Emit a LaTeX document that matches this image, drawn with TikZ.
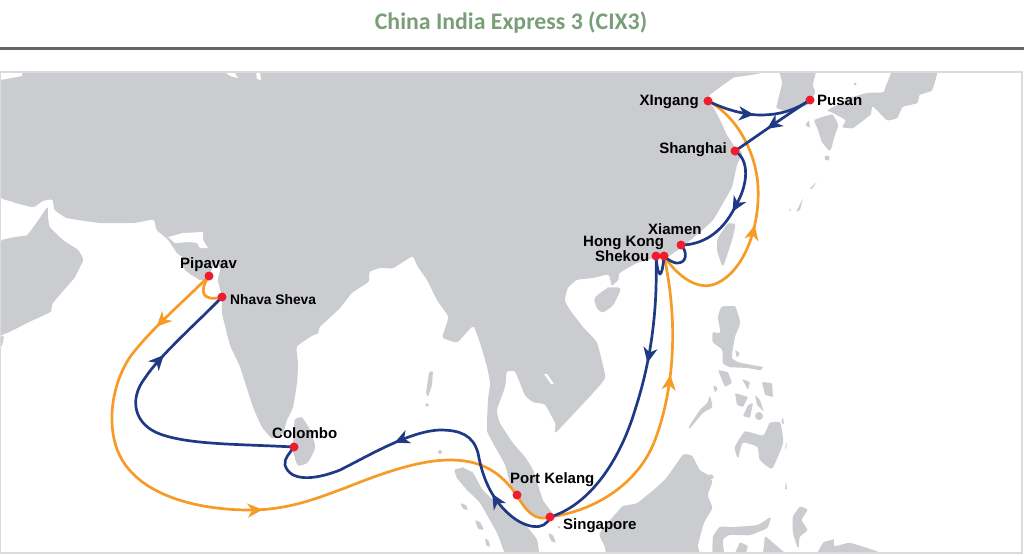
\documentclass[tikz,border=0pt]{standalone}
\usepackage{fontspec}
\setmainfont{Liberation Sans}
\newfontfamily\titlefont{Carlito}
\usetikzlibrary{arrows.meta,decorations.markings}

\definecolor{landgray}{HTML}{CBCCCF}
\definecolor{framegray}{HTML}{DADBDC}
\definecolor{rulegray}{HTML}{666666}
\definecolor{titlegreen}{HTML}{7A9E78}
\definecolor{routeblue}{HTML}{1F3A85}
\definecolor{routeorange}{HTML}{F79B26}
\definecolor{portred}{HTML}{EE1C2E}

\tikzset{
	land/.style={fill=landgray, rounded corners=1pt},
	gap/.style={fill=white},
	route/.style={line width=2.7pt, line cap=round, line join=round},
	blueroute/.style={route, draw=routeblue},
	orangeroute/.style={route, draw=routeorange},
	arrowat/.style={postaction={decorate, decoration={markings, mark=at position #1 with {\arrow{Stealth[length=15pt, width=14pt, inset=4.5pt]}}}}},
	port/.style={circle, fill=portred, inner sep=0pt, minimum size=9pt},
	portlabel/.style={font=\fontsize{15}{17}\selectfont\bfseries, inner sep=0pt, text=black}
}

\begin{document}
\begin{tikzpicture}[x=1pt, y=-1pt]
	\useasboundingbox (0,0) rectangle (1024,555);

	%Title
	\node[font=\titlefont\fontsize{23.8}{26}\selectfont\bfseries, text=titlegreen] (title) at (511,23) {China India Express 3 (CIX3)};
	\draw[line width=2.5pt, rulegray] (0,48.5) -- (1024,48.5);

	%Land
	\begin{scope}
	\clip (0,72) rectangle (1022,553);
	%Eurasia
	\fill[land] plot[smooth cycle, tension=.25] coordinates {(-5,68) (-5,190) (13,202) (33,207) (43,201) (52,200) (55,210) (67,218) (100,223) (133,223) (153,220) (157,230) (168,240) (177,253) (183,258) (185,270) (200,280) (208,277) (213,267) (217,262) (220,270) (218,280) (222,297) (222,313) (230,345) (240,367) (253,407) (262,427) (272,438) (283,433) (287,420) (293,407) (297,383) (298,365) (297,347) (310,337) (318,333) (320,327) (340,308) (352,293) (368,282) (370,272) (380,268) (393,268) (412,257) (418,267) (427,280) (437,300) (448,317) (443,337) (457,342) (473,327) (480,343) (487,367) (490,383) (488,400) (487,430) (493,443) (505,465) (513,493) (530,513) (547,518) (552,513) (543,500) (533,470) (525,457) (513,443) (500,423) (497,410) (505,387) (507,372) (515,372) (525,395) (533,402) (545,405) (555,423) (556,432) (580,407) (593,393) (605,377) (597,343) (583,327) (570,310) (565,300) (568,288) (577,280) (593,278) (608,275) (612,285) (618,280) (620,273) (637,263) (655,258) (667,257) (682,247) (700,232) (713,220) (723,203) (732,187) (737,165) (742,153) (735,147) (727,135) (720,120) (713,107) (708,102) (710,95) (723,85) (733,78) (742,70)};
	%Korea
	\fill[land] plot[smooth cycle, tension=.25] coordinates {(780,68) (782,83) (778,100) (777,108) (790,112) (800,108) (810,103) (815,92) (813,85) (815,68)};
	%Arabia
	\fill[land] plot[smooth cycle, tension=.25] coordinates {(-5,247) (3,240) (15,237) (27,235) (37,222) (47,208) (48,217) (50,227) (63,240) (78,250) (83,260) (75,277) (70,283) (53,303) (50,312) (27,323) (7,333) (-5,333)};
	\fill[land] (-2,337) -- (4,336) -- (2,346) -- (-2,348) -- cycle;
	%Sri Lanka
	\fill[land] plot[smooth cycle, tension=.4] coordinates {(295,420) (302,418) (310,430) (315,447) (308,462) (298,465) (293,450) (294,432)};
	%Andaman, Nicobar
	\fill[land] (429,372) -- (433,371) -- (432,385) -- (428,397) -- (426,393) -- cycle;
	\fill[land] (427,405) circle [radius=1.8];
	\fill[land] (440,452) circle [radius=2];
	%Sumatra
	\fill[land] plot[smooth cycle, tension=.25] coordinates {(455,470) (463,468) (473,473) (483,490) (507,513) (527,527) (537,540) (538,558) (508,558) (497,533) (480,503) (467,490) (457,478)};
	\fill[land] (460,503) -- (466,505) -- (468,510) -- (463,509) -- cycle;
	\fill[land] (475,520) -- (480,522) -- (484,530) -- (478,529) -- cycle;
	\fill[land] (485,538) -- (489,541) -- (490,547) -- (486,545) -- cycle;
	\fill[land] (548,533) -- (553,535) -- (556,543) -- (551,541) -- cycle;
	\fill[land] (559,527) circle [radius=1.5];
	%Borneo
	\fill[land] plot[smooth cycle, tension=.25] coordinates {(600,533) (622,507) (637,503) (657,487) (667,477) (683,455) (692,456) (700,470) (708,475) (712,482) (708,495) (712,508) (704,523) (698,545) (697,558) (612,558) (604,545)};
	%Sulawesi
	\fill[land] plot[smooth cycle, tension=.25] coordinates {(713,558) (713,537) (720,527) (733,527) (757,525) (770,518) (767,528) (750,535) (730,535) (723,540) (724,558)};
	\fill[land] (735,553) -- (740,542) -- (748,546) -- (746,553) -- cycle;
	\fill[land] (765,536) -- (770,540) -- (785,553) -- (763,553) -- cycle;
	%Halmahera
	\fill[land] plot[smooth cycle, tension=.3] coordinates {(800,507) (807,510) (802,520) (807,530) (800,537) (798,547) (793,533) (793,517)};
	%New Guinea
	\fill[land] plot[smooth cycle, tension=.3] coordinates {(823,543) (833,540) (835,546) (850,543) (873,550) (885,556) (820,556)};
	%Philippines
	\fill[land] plot[smooth cycle, tension=.3] coordinates {(722,307) (735,307) (740,323) (735,337) (732,357) (738,362) (752,365) (762,367) (760,370) (747,368) (730,367) (723,363) (722,350) (713,342) (713,333) (720,332) (718,317)};
	\fill[land] (718,370) -- (728,372) -- (732,383) -- (725,387) -- cycle;
	\fill[land] plot[smooth cycle, tension=.3] coordinates {(710,397) (712,407) (703,413) (690,428) (690,425) (700,410) (707,403)};
	\fill[land] (713,385) -- (718,388) -- (715,393) -- cycle;
	\fill[land] (762,382) -- (772,383) -- (773,397) -- (765,395) -- cycle;
	\fill[land] (735,393) -- (748,397) -- (743,407) -- (737,405) -- cycle;
	\fill[land] (748,405) -- (753,403) -- (750,418) -- (743,416) -- cycle;
	\fill[land] (755,395) -- (760,400) -- (764,412) -- (757,405) -- cycle;
	\fill[land] (742,379) -- (750,382) -- (748,390) -- cycle;
	\fill[land] (759,416) circle [radius=4];
	\fill[land] (735,350) -- (740,353) -- (737,358) -- cycle;
	\fill[land] plot[smooth cycle, tension=.3] coordinates {(735,447) (745,432) (763,435) (770,423) (780,423) (783,443) (772,468) (760,460) (757,447) (743,443) (738,457)};
	\fill[land] (783,417) -- (784,425) -- (781,422) -- cycle;
	\fill[land] (703,477) -- (712,474) -- (714,478) -- (706,480) -- cycle;
	\fill[land] (785,447) -- (787,442) -- (786,450) -- cycle;
	\fill[land] (785,490) -- (786,480) -- (787,489) -- cycle;
	%Taiwan, Hainan
	\fill[land] plot[smooth cycle, tension=.3] coordinates {(728,224) (735,225) (732,240) (723,265) (717,250) (718,238)};
	\fill[land] plot[smooth cycle, tension=.4] coordinates {(595,298) (608,288) (620,289) (613,305) (603,312) (597,308)};
	%Japan
	\fill[land] plot[smooth cycle, tension=.3] coordinates {(815,120) (832,115) (838,125) (835,135) (830,150) (822,142) (818,130)};
	\fill[land] plot[smooth cycle, tension=.2] coordinates {(828,110) (850,98) (867,93) (883,92) (887,83) (895,68) (937,68) (932,90) (920,95) (917,103) (903,107) (897,118) (887,120) (873,107) (870,115) (853,128) (843,127) (845,120) (833,113)};
	\fill[land] (805,125) -- (809,120) -- (810,128) -- cycle;
	\fill[land] (827,158) circle [radius=2.5];
	\fill[land] (855,84) circle [radius=1.5];
	\fill[land] (817,182) -- (810,188) -- (811,190) -- cycle;
	\fill[land] (803,198) -- (796,212) -- (800,210) -- cycle;
	\fill[land] (790,210) circle [radius=1];
	%Lakes and inlets
	\fill[gap] (168,237) -- (183,233) -- (203,232) -- (203,240) -- (208,248) -- (200,248) -- (197,243) -- (190,242) -- (175,243) -- cycle;
	\fill[gap] (0,72) -- (22,72) -- (22,76) -- (0,80) -- cycle;
	\fill[gap] (225,72) -- (234,72) -- (238,78) -- (230,76) -- cycle;
	\fill[gap] (256,72) -- (260,72) -- (261,80) -- (257,79) -- cycle;
	\fill[gap] (544,374) -- (547,374) -- (554,384) -- (551,384) -- cycle;
	\end{scope}

	%Map frame
	\draw[line width=1.5pt, framegray] (0,72) rectangle (1022,553);

	%Port positions
	\coordinate (xingang) at (708,101);
	\coordinate (pusan) at (810,100);
	\coordinate (shanghai) at (735,151);
	\coordinate (xiamen) at (681,245);
	\coordinate (hongkong) at (656,256);
	\coordinate (shekou) at (664,256);
	\coordinate (singapore) at (550,517);
	\coordinate (portkelang) at (517,495);
	\coordinate (colombo) at (294,447);
	\coordinate (nhavasheva) at (222,297);
	\coordinate (pipavav) at (209,276);

	%Orange legs
	\draw[orangeroute] (nhavasheva) .. controls (203,302) and (198,292) .. (pipavav);
	\draw[orangeroute, arrowat={.105}, arrowat={.543}] (pipavav) .. controls (180,305) and (150,330) .. (130,357) .. controls (108,390) and (105,440) .. (127,467) .. controls (150,497) and (200,510) .. (250,510) .. controls (290,510) and (320,497) .. (345,488) .. controls (385,472) and (420,460) .. (450,460) .. controls (490,460) and (505,480) .. (portkelang) .. controls (525,510) and (535,522) .. (singapore);
	\draw[orangeroute, arrowat={.63}] (singapore) .. controls (600,510) and (640,480) .. (655,440) .. controls (672,395) and (680,330) .. (shekou);
	\draw[orangeroute, arrowat={.49}] (shekou) .. controls (680,280) and (700,290) .. (715,284) .. controls (745,272) and (760,225) .. (758,187) .. controls (756,150) and (735,115) .. (xingang);

	%Blue legs
	\draw[blueroute, arrowat={.45}] (xingang) .. controls (730,112) and (750,115) .. (760,115) .. controls (780,115) and (795,110) .. (pusan);
	\draw[blueroute, arrowat={.57}] (pusan) .. controls (785,116) and (760,134) .. (shanghai);
	\draw[blueroute, arrowat={.51}] (shanghai) .. controls (750,160) and (748,185) .. (736,205) .. controls (722,235) and (700,245) .. (xiamen);
	\draw[blueroute] (xiamen) .. controls (688,252) and (687,264) .. (676,263) .. controls (672,262) and (668,260) .. (shekou);
	\draw[blueroute] (shekou) .. controls (662,280) and (658,280) .. (hongkong);
	\draw[blueroute, arrowat={.36}] (hongkong) .. controls (658,320) and (648,370) .. (635,410) .. controls (620,460) and (590,505) .. (singapore);
	\draw[blueroute, arrowat={.21}, arrowat={.6}] (singapore) .. controls (545,532) and (525,528) .. (510,515) .. controls (490,498) and (482,475) .. (478,453) .. controls (473,435) and (460,430) .. (440,430) .. controls (410,431) and (370,455) .. (340,470) .. controls (315,480) and (290,482) .. (285,465) .. controls (284,458) and (290,453) .. (colombo);
	\draw[blueroute, arrowat={.74}] (colombo) .. controls (240,444) and (190,445) .. (160,434) .. controls (135,425) and (128,400) .. (145,378) .. controls (160,355) and (200,320) .. (nhavasheva);

	%Ports
	\node[port] (xingangdot) at (xingang) {};
	\node[port] (pusandot) at (pusan) {};
	\node[port] (shanghaidot) at (shanghai) {};
	\node[port] (xiamendot) at (xiamen) {};
	\node[port] (hongkongdot) at (hongkong) {};
	\node[port] (shekoudot) at (shekou) {};
	\node[port] (singaporedot) at (singapore) {};
	\node[port] (portkelangdot) at (portkelang) {};
	\node[port] (colombodot) at (colombo) {};
	\node[port] (nhavashevadot) at (nhavasheva) {};
	\node[port] (pipavavdot) at (pipavav) {};

	%Port names
	\node[portlabel, anchor=base east] (xingangtext) at (699,105) {XIngang};
	\node[portlabel, anchor=base west] (pusantext) at (817,105) {Pusan};
	\node[portlabel, anchor=base east] (shanghaitext) at (727,153) {Shanghai};
	\node[portlabel, anchor=base west] (xiamentext) at (648,234) {Xiamen};
	\node[portlabel, anchor=base west] (hongkongtext) at (583,246) {Hong Kong};
	\node[portlabel, anchor=base west] (shekoutext) at (595,261) {Shekou};
	\node[portlabel, anchor=base west] (singaporetext) at (563,529) {Singapore};
	\node[portlabel, anchor=base west] (portkelangtext) at (510,483) {Port Kelang};
	\node[portlabel, anchor=base west] (colombotext) at (272,438) {Colombo};
	\node[portlabel, anchor=base west, font=\fontsize{13.8}{16}\selectfont\bfseries] (nhavashevatext) at (230,304) {Nhava Sheva};
	\node[portlabel, anchor=base west] (pipavavtext) at (180,268) {Pipavav};
\end{tikzpicture}
\end{document}
